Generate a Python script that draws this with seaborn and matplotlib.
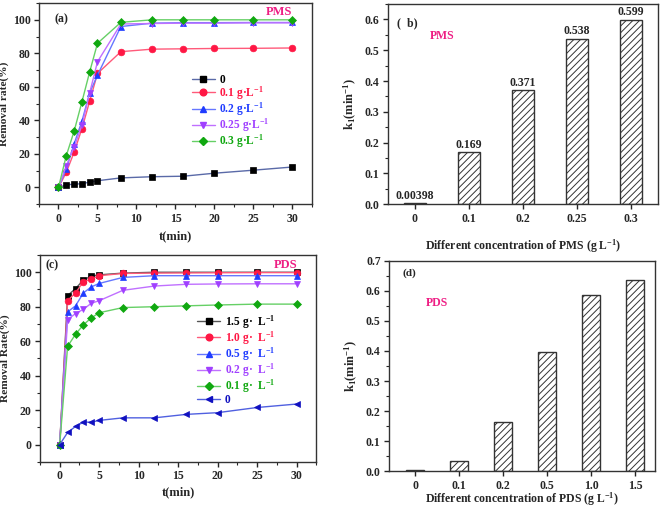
import numpy as np
import pandas as pd
import matplotlib
matplotlib.use("Agg")
import matplotlib.pyplot as plt
import seaborn as sns
from matplotlib.ticker import MultipleLocator
from matplotlib.lines import Line2D

# ---- data ----
t = [0, 1, 2, 3, 4, 5, 8, 12, 16, 20, 25, 30]

pms_labels = ['0', '0.1 g·L$^{-1}$', '0.2 g·L$^{-1}$', '0.25 g·L$^{-1}$', '0.3 g·L$^{-1}$']
pms_0 = [0, 1.5, 2.0, 2.2, 3.2, 4.0, 5.7, 6.4, 6.7, 8.5, 10.3, 12.2]
pms_01 = [0, 9, 21, 35, 51.5, 68, 81, 82.5, 82.7, 82.9, 83.0, 83.2]
pms_02 = [0, 11, 26, 39.5, 56.5, 67, 96, 98, 98.3, 98.3, 98.4, 98.4]
pms_025 = [0, 13, 24, 37, 56.5, 75, 97.5, 97.8, 98, 98, 98.2, 98.2]
pms_03 = [0, 19, 33.5, 51, 69, 86, 98.5, 100, 100, 100, 100, 100]

pds_labels = ['1.5 g·  L$^{-1}$', '1.0 g·  L$^{-1}$', '0.5 g·  L$^{-1}$',
              '0.2 g·  L$^{-1}$', '0.1 g·  L$^{-1}$', '0']
pds_15 = [0, 86.5, 90.5, 95.5, 97.8, 98.5, 99.5, 100, 100, 100, 100, 100]
pds_10 = [0, 83.5, 88, 94.5, 96, 98, 99.3, 99.5, 99.6, 99.7, 99.8, 99.8]
pds_05 = [0, 77, 80.5, 88, 91.5, 93.5, 97, 98, 98, 98, 98, 98]
pds_02 = [0, 72.5, 76, 78.5, 82, 83.5, 89.5, 92, 93, 93.2, 93.3, 93.3]
pds_01 = [0, 57, 64, 69.5, 73.5, 76.5, 79.5, 80, 80.5, 81, 81.5, 81.5]
pds_0 = [0, 7, 10.5, 13, 13, 14, 15.5, 15.5, 17.5, 18.5, 21.5, 23.5]

pms_conc = ['0', '0.1', '0.2', '0.25', '0.3']
pms_k = [0.00398, 0.169, 0.371, 0.538, 0.599]
pms_k_text = ['0.00398', '0.169', '0.371', '0.538', '0.599']

pds_conc = ['0', '0.1', '0.2', '0.5', '1.0', '1.5']
pds_k = [0.006, 0.034, 0.165, 0.395, 0.585, 0.634]

# ---- style ----
sns.set_style("ticks")
plt.rcParams['font.family'] = ['Liberation Serif', 'DejaVu Serif']
plt.rcParams['font.weight'] = 'bold'
plt.rcParams['axes.labelweight'] = 'bold'
plt.rcParams['mathtext.fontset'] = 'custom'
plt.rcParams['mathtext.rm'] = 'Liberation Serif:bold'
plt.rcParams['mathtext.it'] = 'Liberation Serif:bold'
plt.rcParams['mathtext.bf'] = 'Liberation Serif:bold'
plt.rcParams['hatch.color'] = '#444444'
plt.rcParams['hatch.linewidth'] = 0.7

FS = 8.5
MAG = '#ee1e84'

fig = plt.figure(figsize=(6.61, 5.08), dpi=100)
ax_a = fig.add_axes([0.059, 0.598, 0.413, 0.396])
ax_b = fig.add_axes([0.587, 0.598, 0.408, 0.394])
ax_c = fig.add_axes([0.0605, 0.091, 0.418, 0.407])
ax_d = fig.add_axes([0.5885, 0.072, 0.402, 0.415])


def style_axes(ax):
    for s in ax.spines.values():
        s.set_linewidth(1.0)
        s.set_color('#333333')
    ax.tick_params(which='major', direction='out', length=3.5, width=1.0,
                   labelsize=FS, top=False, right=False, pad=2.5)
    ax.tick_params(which='minor', direction='out', length=2, width=0.8,
                   top=False, right=False)
    for lab in ax.get_xticklabels() + ax.get_yticklabels():
        lab.set_fontweight('bold')


def kinetics(ax, series, labels, markers, mcolors, lcolors, legend_anchor):
    handles = []
    for vals, lab, m, mc, lc in zip(series, labels, markers, mcolors, lcolors):
        ms = 4.0 if m == 'D' else 4.8
        sns.lineplot(x=t, y=vals, ax=ax, color=lc, lw=1.0, marker=m,
                     markersize=ms, markerfacecolor=mc, markeredgecolor=mc,
                     markeredgewidth=0.5)
        handles.append(Line2D([], [], color=lc, lw=1.0, marker=m, markersize=ms,
                              markerfacecolor=mc, markeredgecolor=mc))
    ax.set_xlim(-2.5, 32.5)
    ax.set_ylim(-10, 110)
    ax.xaxis.set_major_locator(MultipleLocator(5))
    ax.xaxis.set_minor_locator(MultipleLocator(2.5))
    ax.yaxis.set_major_locator(MultipleLocator(20))
    ax.yaxis.set_minor_locator(MultipleLocator(10))
    leg = ax.legend(handles, labels, loc='upper left', bbox_to_anchor=legend_anchor,
                    frameon=False, fontsize=8.3, handlelength=2.0, labelspacing=-0.12,
                    handletextpad=0.4, borderpad=0.1, borderaxespad=0)
    for txt, mc in zip(leg.get_texts(), mcolors):
        txt.set_color(mc)
        txt.set_fontweight('bold')
    style_axes(ax)


# (a) PMS kinetics
kinetics(ax_a, [pms_0, pms_01, pms_02, pms_025, pms_03], pms_labels,
         ['s', 'o', '^', 'v', 'D'],
         ['black', '#ff1744', '#1f3cff', '#a040ff', '#10a810'],
         ['#5a6aa8', '#ff5a7a', '#6677ff', '#c070ff', '#66d066'],
         (0.555, 0.655))
ax_a.set_xlabel('t(min)', fontsize=FS + 0.5, labelpad=4)
ax_a.set_ylabel('Removal rate(%)', fontsize=8.2, labelpad=3)
ax_a.text(0.055, 0.92, '(a)', transform=ax_a.transAxes, fontsize=FS,
          fontweight='bold', va='center')
ax_a.text(0.88, 0.955, 'PMS', transform=ax_a.transAxes, fontsize=FS + 0.5,
          fontweight='bold', color=MAG, ha='center', va='center')

# (c) PDS kinetics
kinetics(ax_c, [pds_15, pds_10, pds_05, pds_02, pds_01, pds_0], pds_labels,
         ['s', 'o', '^', 'v', 'D', '<'],
         ['black', '#ff1744', '#1f3cff', '#a040ff', '#10a810', '#1010c0'],
         ['#555555', '#ff5a7a', '#6677ff', '#c070ff', '#66d066', '#5060e0'],
         (0.565, 0.725))
ax_c.set_xlabel('t(min)', fontsize=FS + 0.5, labelpad=3)
ax_c.set_ylabel('Removal Rate(%)', fontsize=8.2, labelpad=3)
ax_c.text(0.02, 0.95, '(c)', transform=ax_c.transAxes, fontsize=FS,
          fontweight='bold', va='center')
ax_c.text(0.888, 0.95, 'PDS', transform=ax_c.transAxes, fontsize=FS + 0.5,
          fontweight='bold', color=MAG, ha='center', va='center')


def bars(ax, conc, k, width):
    df = pd.DataFrame({'conc': conc, 'k': k})
    sns.barplot(data=df, x='conc', y='k', ax=ax, width=width, color='white',
                edgecolor='#333333', linewidth=1.0)
    for p in ax.patches:
        p.set_hatch('/////')
    ax.set_ylabel('k$_1$(min$^{-1}$)', fontsize=FS + 0.5, labelpad=4)
    ax.yaxis.set_major_locator(MultipleLocator(0.1))
    ax.yaxis.set_minor_locator(MultipleLocator(0.05))
    style_axes(ax)


# (b) PMS rate constants
bars(ax_b, pms_conc, pms_k, 0.4)
ax_b.set_xlim(-0.5, 4.5)
ax_b.set_ylim(0, 0.65)
ax_b.set_xlabel('Different concentration of PMS (g L$^{-1}$)', fontsize=FS, labelpad=9)
ax_b.bar_label(ax_b.containers[0], labels=pms_k_text, fontsize=FS, fontweight='bold',
               padding=1)
ax_b.text(0.033, 0.905, '(  b)', transform=ax_b.transAxes, fontsize=FS,
          fontweight='bold', va='center')
ax_b.text(0.2, 0.84, 'PMS', transform=ax_b.transAxes, fontsize=FS,
          fontweight='bold', color=MAG, ha='center', va='center')
style_axes(ax_b)

# (d) PDS rate constants
bars(ax_d, pds_conc, pds_k, 0.41)
ax_d.set_xlim(-0.6, 5.45)
ax_d.set_ylim(0, 0.7)
ax_d.set_xlabel('Different concentration of PDS (g L$^{-1}$)', fontsize=FS, labelpad=-1)
ax_d.text(0.05, 0.94, '(d)', transform=ax_d.transAxes, fontsize=FS - 0.5,
          fontweight='bold', va='center')
ax_d.text(0.18, 0.80, 'PDS', transform=ax_d.transAxes, fontsize=FS,
          fontweight='bold', color=MAG, ha='center', va='center')
style_axes(ax_d)

fig.savefig('out.png', dpi=100)
